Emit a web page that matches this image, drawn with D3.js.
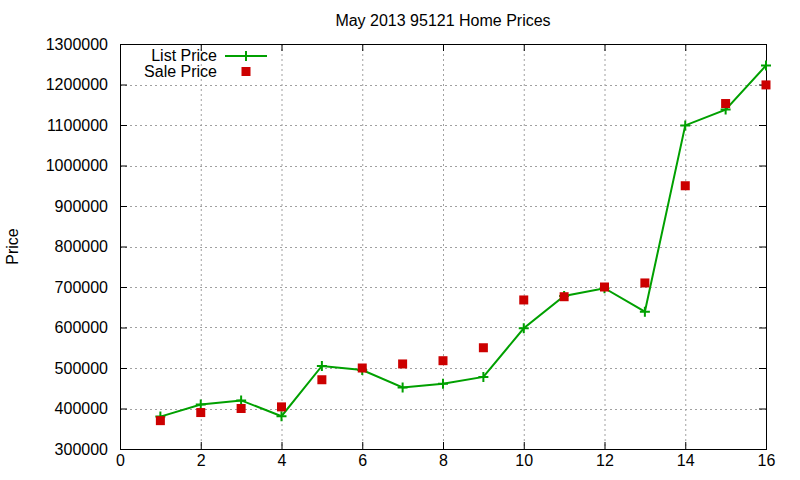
<!DOCTYPE html>
<html>
<head>
  <meta charset="utf-8">
  <title>May 2013 95121 Home Prices</title>
  <script src="https://d3js.org/d3.v7.min.js"></script>
  <style>
    body { margin: 0; background: #fff; }
    text { font-family: "Liberation Sans", Arial, sans-serif; }
  </style>
</head>
<body>
  <svg id="chart" width="800" height="480"></svg>
  <script>
    var months = [1, 2, 3, 4, 5, 6, 7, 8, 9, 10, 11, 12, 13, 14, 15, 16];
    var listPrice = [380000, 410000, 420000, 381000, 505000, 495000, 452000, 461000,
                     478000, 598000, 678000, 697000, 639000, 1099000, 1138000, 1247000];
    var salePrice = [370000, 390000, 400000, 404000, 471000, 500000, 510000, 518000,
                     550000, 668000, 676000, 700000, 710000, 950000, 1153000, 1199000];
    var xTicks = [0, 2, 4, 6, 8, 10, 12, 14, 16];
    var yTicks = [300000, 400000, 500000, 600000, 700000, 800000, 900000,
                  1000000, 1100000, 1200000, 1300000];

    var margin = { top: 44, left: 120, right: 34, bottom: 31 };
    var svg = d3.select("#chart");
    var width = +svg.attr("width") - margin.left - margin.right;
    var height = +svg.attr("height") - margin.top - margin.bottom;

    var green = "#00a000", red = "#cc0000";
    var fontSize = "16px";

    var x = d3.scaleLinear().domain([0, 16]).range([margin.left, margin.left + width]);
    var y = d3.scaleLinear().domain([300000, 1300000]).range([margin.top + height, margin.top]);

    // grid
    var grid = svg.append("g").attr("class", "grid")
      .attr("stroke", "#a0a0a0").attr("stroke-dasharray", "2,3").attr("stroke-width", 1);
    grid.selectAll("line.gx").data(xTicks.slice(1, -1)).enter().append("line")
      .attr("x1", function(d) { return x(d) + 0.5; }).attr("x2", function(d) { return x(d) + 0.5; })
      .attr("y1", margin.top).attr("y2", margin.top + height);
    grid.selectAll("line.gy").data(yTicks.slice(1, -1)).enter().append("line")
      .attr("x1", margin.left).attr("x2", margin.left + width)
      .attr("y1", function(d) { return Math.round(y(d)) + 0.5; })
      .attr("y2", function(d) { return Math.round(y(d)) + 0.5; });

    // axes (ticks point inward, mirrored on top/right)
    function styleAxis(g) {
      g.select(".domain").remove();
      g.selectAll("line").attr("stroke", "#000");
      g.selectAll("text").attr("fill", "#000").style("font-size", fontSize)
        .style("font-family", "'Liberation Sans', Arial, sans-serif");
    }
    svg.append("g").attr("transform", "translate(0," + (margin.top + height) + ")")
      .call(d3.axisBottom(x).tickValues(xTicks).tickSizeInner(-7).tickPadding(6))
      .call(styleAxis);
    svg.append("g").attr("transform", "translate(0," + margin.top + ")")
      .call(d3.axisTop(x).tickValues(xTicks).tickSizeInner(-7).tickFormat(""))
      .call(styleAxis);
    svg.append("g").attr("transform", "translate(" + margin.left + ",0)")
      .call(d3.axisLeft(y).tickValues(yTicks).tickSizeInner(-7).tickPadding(12)
              .tickFormat(d3.format("d")))
      .call(styleAxis);
    svg.append("g").attr("transform", "translate(" + (margin.left + width) + ",0)")
      .call(d3.axisRight(y).tickValues(yTicks).tickSizeInner(-7).tickFormat(""))
      .call(styleAxis);

    // frame
    svg.append("rect")
      .attr("x", margin.left + 0.5).attr("y", margin.top + 0.5)
      .attr("width", width).attr("height", height)
      .attr("fill", "none").attr("stroke", "#000").attr("stroke-width", 1);

    // title and y label
    svg.append("text").attr("x", margin.left + width / 2).attr("y", 26)
      .attr("text-anchor", "middle").style("font-size", fontSize)
      .text("May 2013 95121 Home Prices");
    svg.append("text")
      .attr("transform", "translate(18," + (margin.top + height / 2) + ") rotate(-90)")
      .attr("text-anchor", "middle").style("font-size", fontSize)
      .text("Price");

    // list price line + plus markers
    var line = d3.line()
      .x(function(d, i) { return x(months[i]); })
      .y(function(d) { return y(d); });
    svg.append("path").datum(listPrice)
      .attr("d", line).attr("fill", "none")
      .attr("stroke", green).attr("stroke-width", 2);

    function plus(cx, cy, s) {
      return "M" + (cx - s) + "," + cy + "H" + (cx + s) + "M" + cx + "," + (cy - s) + "V" + (cy + s);
    }
    svg.append("g").selectAll("path").data(listPrice).enter().append("path")
      .attr("d", function(d, i) { return plus(x(months[i]), y(d), 5); })
      .attr("stroke", green).attr("stroke-width", 2).attr("fill", "none");

    // sale price squares
    svg.append("g").selectAll("rect").data(salePrice).enter().append("rect")
      .attr("x", function(d, i) { return x(months[i]) - 4.5; })
      .attr("y", function(d) { return y(d) - 4.5; })
      .attr("width", 9).attr("height", 9).attr("fill", red);

    // legend
    var legend = svg.append("g").style("font-size", fontSize);
    legend.append("text").attr("x", 217).attr("y", 61).attr("text-anchor", "end").text("List Price");
    legend.append("line").attr("x1", 225).attr("x2", 267).attr("y1", 56).attr("y2", 56)
      .attr("stroke", green).attr("stroke-width", 2);
    legend.append("path").attr("d", plus(246, 56, 5)).attr("stroke", green).attr("stroke-width", 2);
    legend.append("text").attr("x", 217).attr("y", 77).attr("text-anchor", "end").text("Sale Price");
    legend.append("rect").attr("x", 241.5).attr("y", 67).attr("width", 9).attr("height", 9).attr("fill", red);
  </script>
</body>
</html>
